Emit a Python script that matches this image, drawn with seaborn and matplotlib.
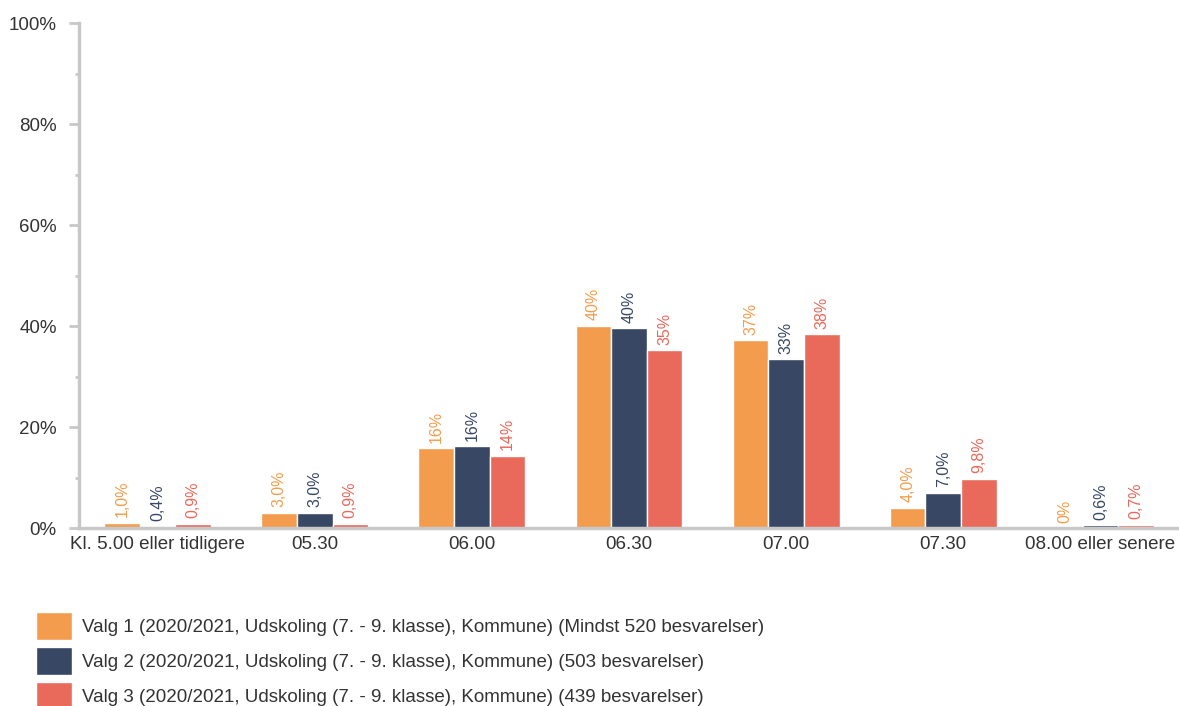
import matplotlib

matplotlib.use("Agg")

import matplotlib.pyplot as plt
import pandas as pd
import seaborn as sns
from matplotlib.ticker import MultipleLocator, FuncFormatter

# Data (percent of respondents)
categories = ["Kl. 5.00 eller tidligere", "05.30", "06.00", "06.30",
              "07.00", "07.30", "08.00 eller senere"]
series_names = [
    "Valg 1 (2020/2021, Udskoling (7. - 9. klasse), Kommune) (Mindst 520 besvarelser)",
    "Valg 2 (2020/2021, Udskoling (7. - 9. klasse), Kommune) (503 besvarelser)",
    "Valg 3 (2020/2021, Udskoling (7. - 9. klasse), Kommune) (439 besvarelser)",
]
valg1 = [1.0, 3.0, 15.8, 40.1, 37.2, 4.0, 0.0]
valg2 = [0.4, 3.0, 16.2, 39.6, 33.4, 7.0, 0.6]
valg3 = [0.9, 0.9, 14.3, 35.2, 38.4, 9.8, 0.7]
colors = ["#F39C4E", "#374764", "#E9695B"]

rows = []
for name, vals in zip(series_names, [valg1, valg2, valg3]):
    for cat, v in zip(categories, vals):
        rows.append({"Tid": cat, "Andel": v, "Valg": name})
df = pd.DataFrame(rows)


def fmt_label(v):
    if v == 0:
        return "0%"
    if v < 10:
        return f"{v:.1f}%".replace(".", ",")
    return f"{round(v):.0f}%"


sns.set_theme(style="white")
plt.rcParams["font.family"] = ["Liberation Sans", "DejaVu Sans"]

fig = plt.figure(figsize=(11.79, 7.06), dpi=100)
ax = fig.add_axes([0.067, 0.252, 0.933, 0.715])

sns.barplot(
    data=df, x="Tid", y="Andel", hue="Valg", order=categories,
    hue_order=series_names, palette=colors, width=0.68,
    edgecolor="white", linewidth=1, saturation=1, ax=ax, legend=True,
)

for cont, col in zip(ax.containers, colors):
    labels = [fmt_label(b.get_height()) for b in cont]
    ax.bar_label(cont, labels=labels, rotation=90, padding=4,
                 color=col, fontsize=11.5)

ax.set_ylim(0, 100)
ax.set_xlim(-0.5, len(categories) - 0.5)
ax.yaxis.set_major_locator(MultipleLocator(20))
ax.yaxis.set_minor_locator(MultipleLocator(10))
ax.yaxis.set_major_formatter(FuncFormatter(lambda v, _: f"{v:.0f}%"))
ax.tick_params(axis="y", which="major", direction="out", length=7,
               width=2, color="#c8c8c8", labelsize=13.5, labelcolor="#333333",
               left=True, pad=9)
ax.tick_params(axis="y", which="minor", direction="out", length=3,
               width=2, color="#c8c8c8", left=True)
ax.tick_params(axis="x", length=0, labelsize=13.5, labelcolor="#333333", pad=6)
ax.set_xlabel("")
ax.set_ylabel("")

sns.despine(ax=ax, top=True, right=True)
for side in ["left", "bottom"]:
    ax.spines[side].set_color("#c8c8c8")
    ax.spines[side].set_linewidth(2.5)

# Legend stacked under the plot, one row per series
handles, labels = ax.get_legend_handles_labels()
ax.get_legend().remove()
fig.legend(
    handles, labels, loc="upper left", bbox_to_anchor=(0.024, 0.144),
    frameon=False, fontsize=13.5, handlelength=1.92, handleheight=1.92,
    labelspacing=0.37, handletextpad=0.55, borderaxespad=0,
    labelcolor="#333333",
)

fig.savefig("out.png", dpi=100)
plt.close(fig)
